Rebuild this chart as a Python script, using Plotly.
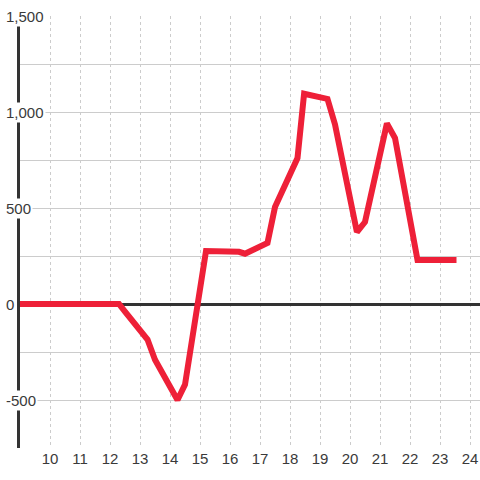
import plotly.graph_objects as go

x_vals = [9, 12.3, 12.5, 13.25, 13.5, 14.25, 14.5, 15.2, 16.3, 16.5, 17.25, 17.5,
          18.25, 18.47, 19.25, 19.5, 20.23, 20.5, 21.23, 21.5, 22.25, 23.55]
y_vals = [0, 0, -40, -185, -290, -500, -420, 276, 272, 262, 318, 505,
          760, 1095, 1068, 935, 375, 427, 940, 865, 229, 229]

x_ticks = list(range(10, 25))
y_label_vals = [1500, 1000, 500, 0, -500]
y_label_text = ["1,500", "1,000", "500", "0", "-500"]

fig = go.Figure()
fig.add_trace(go.Scatter(x=x_vals, y=y_vals, mode="lines",
                         line=dict(color="#ee2038", width=6), hoverinfo="skip"))

font = dict(family="Liberation Sans, Arial, sans-serif", size=15, color="#3a3a3a")

for v, t in zip(y_label_vals, y_label_text):
    fig.add_annotation(x=0, xref="paper", y=v, yref="y", text=t, showarrow=False,
                       xanchor="left", yanchor="middle", xshift=-16,
                       bgcolor="white", borderpad=1, font=font)

fig.update_layout(
    width=480, height=480,
    margin=dict(l=20, r=0, t=16, b=32, autoexpand=False),
    paper_bgcolor="white", plot_bgcolor="white",
    showlegend=False,
    xaxis=dict(range=[9, 9 + 460 / 30], tickvals=x_ticks,
               ticktext=[str(v) for v in x_ticks], automargin=False,
               showgrid=True, gridcolor="#cccccc", griddash="dot", gridwidth=1,
               zeroline=False, showline=False, ticks="", tickfont=font),
    yaxis=dict(range=[-750, 1500], dtick=250, tick0=0, showticklabels=False,
               automargin=False,
               showgrid=True, gridcolor="#cccccc", gridwidth=1,
               zeroline=True, zerolinecolor="#333333", zerolinewidth=3,
               showline=True, linecolor="#333333", linewidth=3, ticks=""),
)

fig.write_html("out.html", config={"displayModeBar": False},
               post_script="document.body.style.margin='0';document.body.style.overflow='hidden';")
